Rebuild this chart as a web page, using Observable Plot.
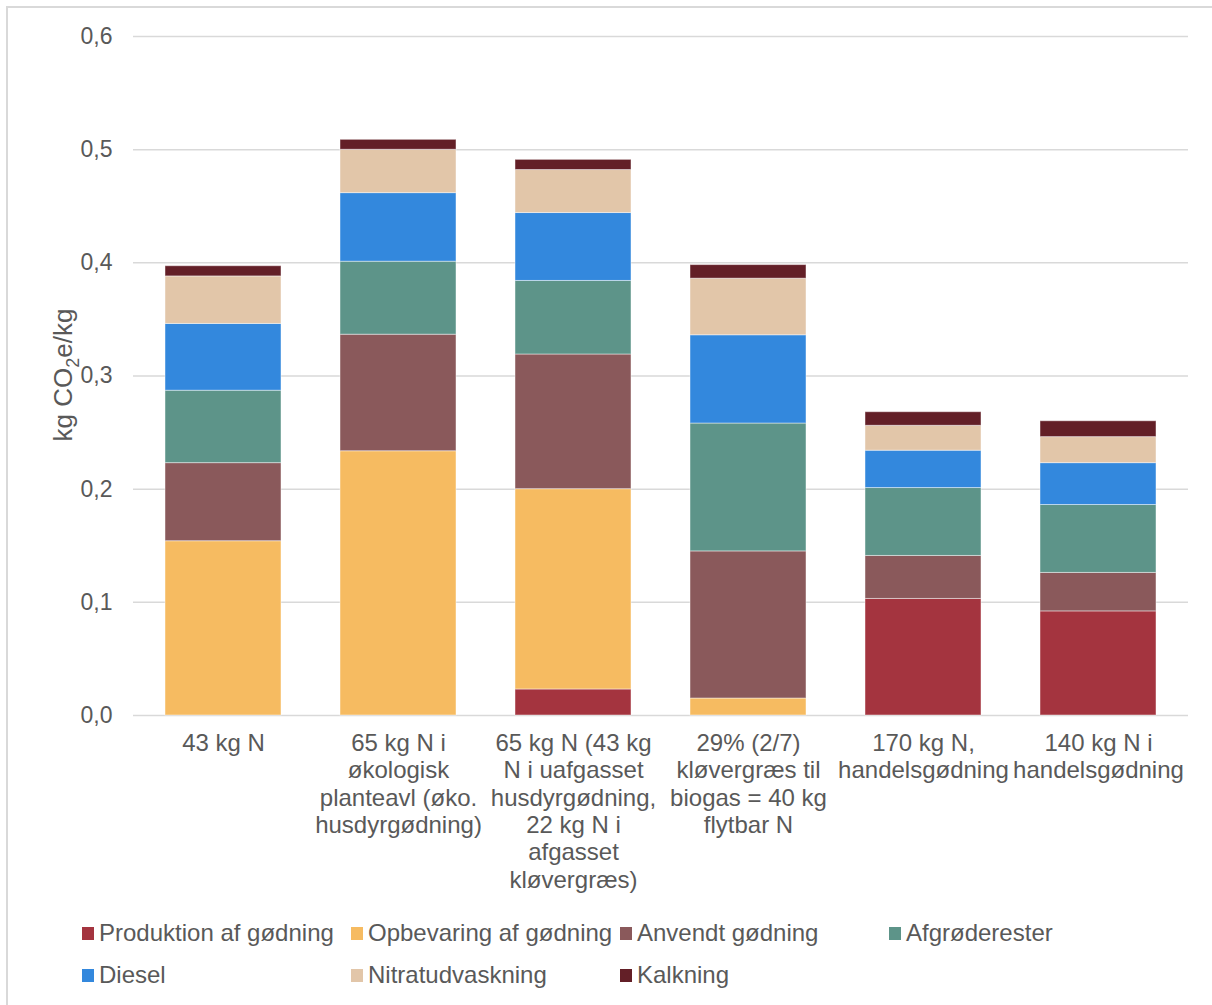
<!DOCTYPE html>
<html>
<head>
<meta charset="utf-8">
<script src="https://cdn.jsdelivr.net/npm/d3@7"></script>
<script src="https://cdn.jsdelivr.net/npm/@observablehq/plot@0.6"></script>
<style>
  html, body { margin: 0; padding: 0; background: #fff; }
  body { width: 1212px; height: 1005px; position: relative; overflow: hidden;
         font-family: "Liberation Sans", Arial, sans-serif; color: #595959; }
  #frame { position: absolute; left: 6px; top: 6px; width: 1300px; height: 1100px;
           border-left: 2px solid #d9d9d9; border-top: 2px solid #d9d9d9; box-sizing: border-box; }
  #chart { position: absolute; left: 0; top: 0; }
  #legend { position: absolute; left: 82px; top: 912px; display: grid;
            grid-template-columns: 269px 269px 269px 269px; grid-auto-rows: 42px; font-size: 24px; }
  .item { display: flex; align-items: center; white-space: nowrap; }
  .sw { width: 12px; height: 13px; margin-right: 5px; flex: none; }
</style>
</head>
<body>
<div id="frame"></div>
<div id="chart"></div>
<div id="legend"></div>
<script>
// Categories (x axis), with the line breaks used in the original tick labels
const categories = [
  "43 kg N",
  "65 kg N i\nøkologisk\nplanteavl (øko.\nhusdyrgødning)",
  "65 kg N (43 kg\nN i uafgasset\nhusdyrgødning,\n22 kg N i\nafgasset\nkløvergræs)",
  "29% (2/7)\nkløvergræs til\nbiogas = 40 kg\nflytbar N",
  "170 kg N,\nhandelsgødning",
  "140 kg N i\nhandelsgødning"
];

// Series (stack order from bottom to top)
const seriesNames = [
  "Produktion af gødning",
  "Opbevaring af gødning",
  "Anvendt gødning",
  "Afgrøderester",
  "Diesel",
  "Nitratudvaskning",
  "Kalkning"
];
const seriesColors = ["#A4343F", "#F6BB61", "#8A595B", "#5D9489", "#3388DD", "#E2C6A9", "#631F27"];

// Values per series, one per category (kg CO2e/kg)
const produktion  = [0.000, 0.000, 0.023, 0.000, 0.103, 0.092];
const opbevaring  = [0.154, 0.2335, 0.177, 0.015, 0.000, 0.000];
const anvendt     = [0.069, 0.103, 0.119, 0.130, 0.038, 0.034];
const afgroede    = [0.064, 0.0645, 0.065, 0.113, 0.060, 0.060];
const diesel      = [0.059, 0.0606, 0.060, 0.078, 0.033, 0.037];
const nitrat      = [0.042, 0.0383, 0.038, 0.050, 0.022, 0.023];
const kalkning    = [0.009, 0.0088, 0.009, 0.012, 0.012, 0.014];

const yTicks = [0, 0.1, 0.2, 0.3, 0.4, 0.5, 0.6];

const seriesValues = [produktion, opbevaring, anvendt, afgroede, diesel, nitrat, kalkning];
const data = [];
seriesNames.forEach((s, i) => {
  categories.forEach((c, j) => {
    data.push({category: c, series: s, value: seriesValues[i][j]});
  });
});

const chart = Plot.plot({
  width: 1212,
  height: 900,
  marginTop: 36,
  marginBottom: 185,
  marginLeft: 133,
  marginRight: 24,
  style: {fontFamily: '"Liberation Sans", Arial, sans-serif', color: "#595959", background: "transparent", overflow: "visible"},
  x: {domain: categories, paddingInner: 0.335, paddingOuter: 0.1675, label: null},
  y: {domain: [0, 0.6], label: null},
  color: {domain: seriesNames, range: seriesColors},
  marks: [
    Plot.ruleY(yTicks, {stroke: "#d9d9d9", strokeWidth: 1.5}),
    Plot.barY(data, {
      x: "category", y: "value", fill: "series", order: seriesNames,
      stroke: "#ffffff", strokeOpacity: 0.45, strokeWidth: 1
    }),
    Plot.axisY({ticks: yTicks, tickSize: 0, tickPadding: 21, fontSize: 23,
      tickFormat: d => d.toFixed(1).replace(".", ","), label: null}),
    Plot.axisX({tickSize: 0, tickPadding: 16, fontSize: 24, lineHeight: 1.14,
      tickFormat: d => d, label: null})
  ]
});
document.getElementById("chart").appendChild(chart);

// Y axis title with subscript
const svg = d3.select(chart);
const t = svg.append("text")
  .attr("transform", "translate(72,375) rotate(-90)")
  .attr("text-anchor", "middle")
  .attr("fill", "#595959")
  .attr("font-size", 26)
  .attr("font-family", '"Liberation Sans", Arial, sans-serif');
t.append("tspan").text("kg CO");
t.append("tspan").attr("font-size", 18).attr("dy", 7).text("2");
t.append("tspan").attr("dy", -7).text("e/kg");

// Legend
const legend = d3.select("#legend");
seriesNames.forEach((s, i) => {
  const it = legend.append("div").attr("class", "item");
  it.append("div").attr("class", "sw").style("background", seriesColors[i]);
  it.append("span").text(s);
});
</script>
</body>
</html>
